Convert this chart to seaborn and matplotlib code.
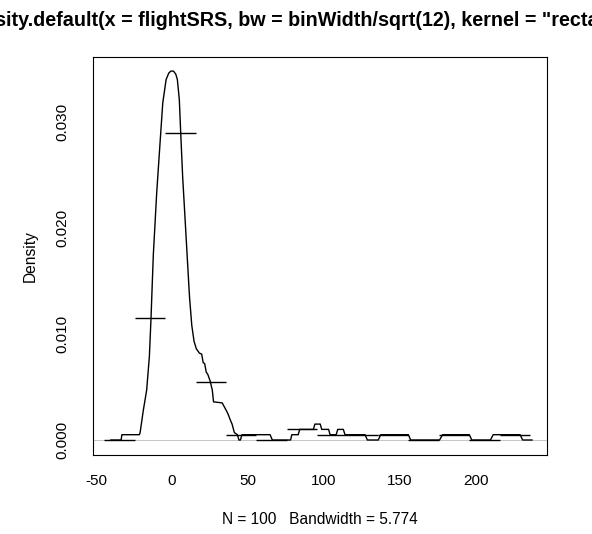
import matplotlib

matplotlib.use("Agg")
import matplotlib.pyplot as plt
import pandas as pd
import seaborn as sns

# density curve (rectangular kernel, bw = 5.774)
dens_x = [-40.5, -33.5, -33.0, -21.5, -21.0, -18.9, -16.7, -14.9, -13.8, -13.0,
          -12.3, -10.1, -7.9, -6.1, -3.9, -2.2, -0.8, 1.0, 2.5, 3.5,
          4.8, 5.7, 7.0, 8.6, 10.1, 11.5, 13.0, 14.5, 16.0, 18.0,
          19.5, 20.5, 21.5, 22.5, 23.5, 25.0, 26.5, 27.3, 33.0, 34.5,
          36.0, 37.0, 38.3, 39.5, 41.0, 43.0, 44.0, 45.0, 46.0, 64.5,
          66.0, 78.0, 78.8, 83.0, 84.0, 93.0, 94.0, 97.5, 98.5, 103.0,
          104.0, 108.0, 109.0, 112.7, 113.8, 127.0, 128.5, 135.7, 137.3, 155.5,
          157.0, 176.0, 178.0, 195.6, 197.2, 209.5, 211.3, 229.0, 230.7, 237.0]
dens_y = [0.0, 0.0, 0.0005, 0.0005, 0.0007, 0.0028, 0.0047, 0.0079, 0.0116, 0.0148,
          0.0175, 0.0233, 0.0280, 0.0318, 0.0340, 0.0346, 0.0348, 0.0348, 0.0345, 0.0340,
          0.0321, 0.0290, 0.0248, 0.0208, 0.0170, 0.0135, 0.0108, 0.0093, 0.0086, 0.0082,
          0.0081, 0.0073, 0.0072, 0.0064, 0.0062, 0.0056, 0.0047, 0.0036, 0.0035, 0.0031,
          0.0027, 0.0024, 0.0019, 0.0015, 0.0007, 0.0005, 0.0, 0.0, 0.0005, 0.0005,
          0.0, 0.0, 0.0005, 0.0005, 0.001, 0.001, 0.0015, 0.0015, 0.001, 0.001,
          0.0005, 0.0005, 0.001, 0.001, 0.0005, 0.0005, 0.0, 0.0, 0.0005, 0.0005,
          0.0, 0.0, 0.0005, 0.0005, 0.0, 0.0, 0.0005, 0.0005, 0.0, 0.0]

# bin tops, binWidth = 20
bin_left = [-44.5, -24.5, -4.5, 15.5, 35.5, 55.5, 75.5, 95.5, 115.5, 135.5, 155.5, 175.5, 195.5, 215.5]
bin_height = [0.0, 0.0115, 0.029, 0.0055, 0.0005, 0.0, 0.001, 0.0005, 0.0005, 0.0005, 0.0, 0.0005, 0.0, 0.0005]
bin_width = 20

x_ticks = [-50, 0, 50, 100, 150, 200]
y_ticks = [0.000, 0.005, 0.010, 0.015, 0.020, 0.025, 0.030, 0.035]
y_tick_labels = ["0.000", "", "0.010", "", "0.020", "", "0.030", ""]

title = 'density.default(x = flightSRS, bw = binWidth/sqrt(12), kernel = "rectangular")'
x_label = "N = 100   Bandwidth = 5.774"
y_label = "Density"

sns.set_style("white")
plt.rcParams["font.family"] = ["Liberation Sans", "DejaVu Sans"]
plt.rcParams["text.color"] = "black"

fig = plt.figure(figsize=(5.92, 5.34), dpi=100)
left, right, top, bottom = 93, 547, 57, 455
ax = fig.add_axes([left / 592, 1 - bottom / 534, (right - left) / 592, (bottom - top) / 534])

# R's zero.line
ax.axhline(0, color="#bbbbbb", lw=0.6, zorder=1)

df = pd.DataFrame({"x": dens_x, "y": dens_y})
sns.lineplot(data=df, x="x", y="y", sort=False, estimator=None, color="black", lw=1.0, ax=ax, zorder=3)

bins = pd.DataFrame({"left": bin_left, "height": bin_height})
bins["right"] = bins["left"] + bin_width
ax.hlines(bins["height"], bins["left"], bins["right"], color="black", lw=1.0, zorder=2)

ax.set_xlim(-52, 246.7)
ax.set_ylim(-0.001415, 0.03613)
ax.set_xticks(x_ticks)
ax.set_xticklabels([str(t) for t in x_ticks])
ax.set_yticks(y_ticks)
ax.set_yticklabels(y_tick_labels, rotation=90, va="center")

for s in ax.spines.values():
    s.set_color("black")
    s.set_linewidth(0.8)
ax.tick_params(axis="both", direction="out", length=5.5, width=0.8, colors="black", labelsize=11)
ax.tick_params(axis="x", pad=8.5)
ax.tick_params(axis="y", pad=11.5)

ax.set_xlabel("")
ax.set_ylabel("")
fig.text((left + right) / 2 / 592, 1 - 519 / 534, x_label, ha="center", va="center", fontsize=11.2, color="black")
fig.text(30 / 592, 1 - 256 / 534, y_label, ha="center", va="center", rotation=90, fontsize=11.2, color="black")
# long R title, clipped at both figure edges as in the original
fig.text(318 / 592, 1 - 20 / 534, title, ha="center", va="center", fontsize=14.2, fontweight="bold", color="black")

fig.savefig("out.png", dpi=100)
